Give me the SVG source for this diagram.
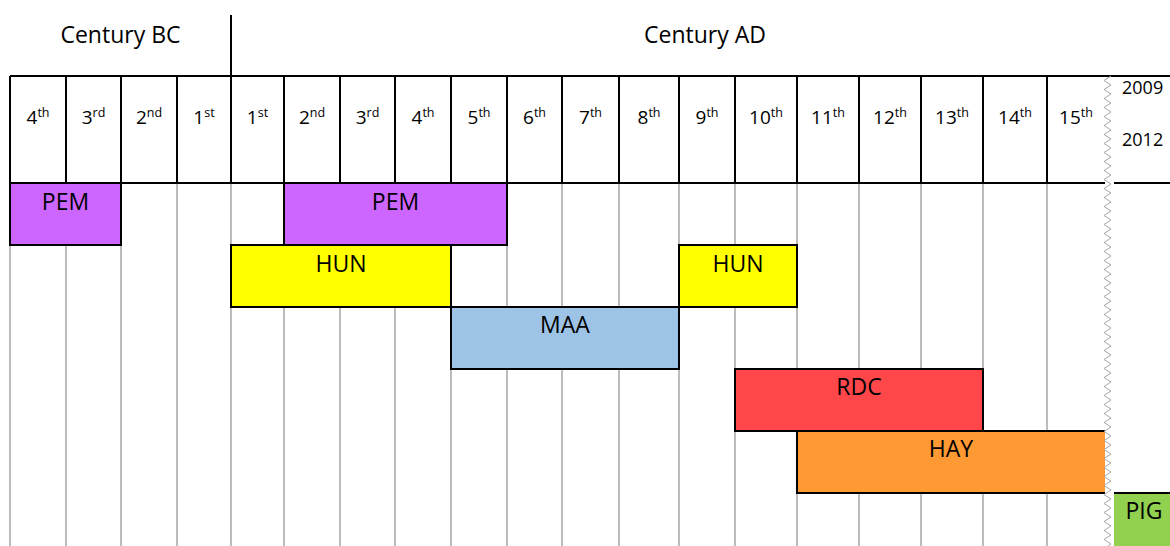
<svg xmlns="http://www.w3.org/2000/svg" width="1170" height="546" viewBox="0 0 1170 546">
  <style>
    .t { font-family: "Open Sans", "Liberation Sans", sans-serif; fill: #000; text-anchor: middle; }
    .big { font-size: 23px; }
    .num { font-size: 19px; }
    .sup { font-size: 12.5px; }
    .yr { font-family: "Open Sans", "Liberation Sans", sans-serif; font-size: 18px; fill: #000; }
    .hdr { stroke: #000; stroke-width: 2; fill: none; }
    .grid { stroke: #a6a6a6; stroke-width: 1.5; fill: none; }
    .bar { stroke: #000; stroke-width: 2; }
    .edge { stroke: #000; stroke-width: 2; fill: none; }
  </style>

  <rect width="1170" height="546" fill="#fff"/>

  <!-- gray century gridlines under the bars -->
  <g id="grid">
    <path class="grid" d="M10 183V546 M66 183V546 M121 183V546 M177 183V546 M231 183V546 M284 183V546 M340 183V546 M395 183V546 M451 183V546 M507 183V546 M562 183V546 M619 183V546 M679 183V546 M735 183V546 M797 183V546 M859 183V546 M921 183V546 M983 183V546 M1047 183V546"/>
  </g>

  <!-- header: era titles and century cells -->
  <g id="header">
    <path class="hdr" d="M231 15V76 M10 76H1170 M10 183H1105 M1114 183H1170"/>
    <path class="hdr" d="M10 76V183 M66 76V183 M121 76V183 M177 76V183 M231 76V183 M284 76V183 M340 76V183 M395 76V183 M451 76V183 M507 76V183 M562 76V183 M619 76V183 M679 76V183 M735 76V183 M797 76V183 M859 76V183 M921 76V183 M983 76V183 M1047 76V183"/>
    <text class="t big" x="120.5" y="43">Century BC</text>
    <text class="t big" x="705" y="43">Century AD</text>

    <text class="t num" x="38" y="124">4<tspan class="sup" dy="-7">th</tspan></text>
    <text class="t num" x="93.5" y="124">3<tspan class="sup" dy="-7">rd</tspan></text>
    <text class="t num" x="149" y="124">2<tspan class="sup" dy="-7">nd</tspan></text>
    <text class="t num" x="204" y="124">1<tspan class="sup" dy="-7">st</tspan></text>
    <text class="t num" x="257.5" y="124">1<tspan class="sup" dy="-7">st</tspan></text>
    <text class="t num" x="312" y="124">2<tspan class="sup" dy="-7">nd</tspan></text>
    <text class="t num" x="367.5" y="124">3<tspan class="sup" dy="-7">rd</tspan></text>
    <text class="t num" x="423" y="124">4<tspan class="sup" dy="-7">th</tspan></text>
    <text class="t num" x="479" y="124">5<tspan class="sup" dy="-7">th</tspan></text>
    <text class="t num" x="534.5" y="124">6<tspan class="sup" dy="-7">th</tspan></text>
    <text class="t num" x="590.5" y="124">7<tspan class="sup" dy="-7">th</tspan></text>
    <text class="t num" x="649" y="124">8<tspan class="sup" dy="-7">th</tspan></text>
    <text class="t num" x="707" y="124">9<tspan class="sup" dy="-7">th</tspan></text>
    <text class="t num" x="766" y="124">10<tspan class="sup" dy="-7">th</tspan></text>
    <text class="t num" x="828" y="124">11<tspan class="sup" dy="-7">th</tspan></text>
    <text class="t num" x="890" y="124">12<tspan class="sup" dy="-7">th</tspan></text>
    <text class="t num" x="952" y="124">13<tspan class="sup" dy="-7">th</tspan></text>
    <text class="t num" x="1015" y="124">14<tspan class="sup" dy="-7">th</tspan></text>
    <text class="t num" x="1076" y="124">15<tspan class="sup" dy="-7">th</tspan></text>

    <text class="yr" x="1122" y="94">2009</text>
    <text class="yr" x="1122" y="146">2012</text>
  </g>

  <!-- period bars -->
  <g id="pem-1">
    <rect class="bar" x="10" y="183" width="111" height="62" fill="#cc66ff"/>
    <text class="t big" x="65.5" y="210">PEM</text>
  </g>
  <g id="pem-2">
    <rect class="bar" x="284" y="183" width="223" height="62" fill="#cc66ff"/>
    <text class="t big" x="395.5" y="210">PEM</text>
  </g>
  <g id="hun-1">
    <rect class="bar" x="231" y="245" width="220" height="62" fill="#ffff00"/>
    <text class="t big" x="341" y="272">HUN</text>
  </g>
  <g id="hun-2">
    <rect class="bar" x="679" y="245" width="118" height="62" fill="#ffff00"/>
    <text class="t big" x="738" y="272">HUN</text>
  </g>
  <g id="maa">
    <rect class="bar" x="451" y="307" width="228" height="62" fill="#9dc3e6"/>
    <text class="t big" x="565" y="333">MAA</text>
  </g>
  <g id="rdc">
    <rect class="bar" x="735" y="369" width="248" height="62" fill="#ff474a"/>
    <text class="t big" x="859" y="395">RDC</text>
  </g>
  <g id="hay">
    <rect x="797" y="431" width="308" height="62" fill="#ff9933"/>
    <path class="edge" d="M1105 431H797V493H1105"/>
    <text class="t big" x="951" y="457">HAY</text>
  </g>
  <g id="pig">
    <rect x="1114" y="493" width="56" height="53" fill="#92d050"/>
    <path class="edge" d="M1114 493H1170"/>
    <text class="t big" x="1144" y="519">PIG</text>
  </g>

  <!-- time-break zigzag between the 15th century and recent years -->
  <g id="connectors">
    <polyline fill="none" stroke="#a6a6a6" stroke-width="1" points="1111,76 1104,80.5 1111,85 1104,89.5 1111,94 1104,98.5 1111,103 1104,107.5 1111,112 1104,116.5 1111,121 1104,125.5 1111,130 1104,134.5 1111,139 1104,143.5 1111,148 1104,152.5 1111,157 1104,161.5 1111,166 1104,170.5 1111,175 1104,179.5 1111,184 1104,188.5 1111,193 1104,197.5 1111,202 1104,206.5 1111,211 1104,215.5 1111,220 1104,224.5 1111,229 1104,233.5 1111,238 1104,242.5 1111,247 1104,251.5 1111,256 1104,260.5 1111,265 1104,269.5 1111,274 1104,278.5 1111,283 1104,287.5 1111,292 1104,296.5 1111,301 1104,305.5 1111,310 1104,314.5 1111,319 1104,323.5 1111,328 1104,332.5 1111,337 1104,341.5 1111,346 1104,350.5 1111,355 1104,359.5 1111,364 1104,368.5 1111,373 1104,377.5 1111,382 1104,386.5 1111,391 1104,395.5 1111,400 1104,404.5 1111,409 1104,413.5 1111,418 1104,422.5 1111,427 1104,431.5 1111,436 1104,440.5 1111,445 1104,449.5 1111,454 1104,458.5 1111,463 1104,467.5 1111,472 1104,476.5 1111,481 1104,485.5 1111,490 1104,494.5 1111,499 1104,503.5 1111,508 1104,512.5 1111,517 1104,521.5 1111,526 1104,530.5 1111,535 1104,539.5 1111,544 1108,546"/>
  </g>
</svg>
